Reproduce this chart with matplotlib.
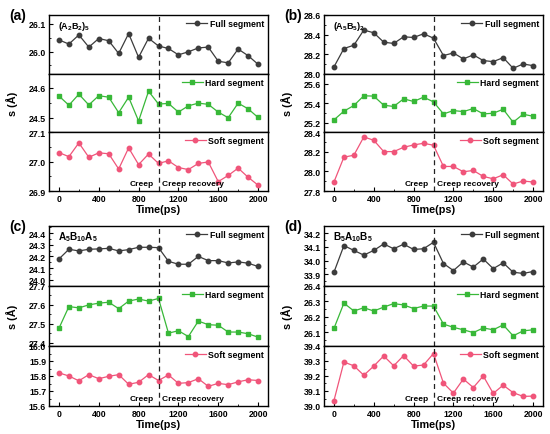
import matplotlib
matplotlib.use('Agg')
import matplotlib.pyplot as plt
from matplotlib.ticker import AutoMinorLocator

plt.rcParams['font.family'] = ['Liberation Sans', 'DejaVu Sans']
plt.rcParams['font.weight'] = 'bold'
plt.rcParams['mathtext.fontset'] = 'custom'
plt.rcParams['mathtext.rm'] = 'Liberation Sans:bold'
plt.rcParams['mathtext.it'] = 'Liberation Sans:bold'
plt.rcParams['mathtext.bf'] = 'Liberation Sans:bold'

# ---------------- data ----------------
time = [0, 100, 200, 300, 400, 500, 600, 700, 800, 900, 1000,
        1100, 1200, 1300, 1400, 1500, 1600, 1700, 1800, 1900, 2000]
x_ticks = [0, 400, 800, 1200, 1600, 2000]

a_full = [26.042, 26.027, 26.060, 26.016, 26.047, 26.039, 25.993, 26.065, 25.979, 26.048, 26.020,
          26.011, 25.988, 25.999, 26.013, 26.016, 25.965, 25.959, 26.009, 25.985, 25.954]
a_hard = [24.573, 24.542, 24.579, 24.543, 24.574, 24.569, 24.517, 24.569, 24.489, 24.589, 24.546,
          24.548, 24.519, 24.540, 24.549, 24.545, 24.519, 24.500, 24.549, 24.530, 24.501]
a_soft = [27.031, 27.017, 27.064, 27.015, 27.030, 27.027, 26.975, 27.047, 26.990, 27.026, 26.994,
          27.003, 26.980, 26.973, 26.994, 26.999, 26.932, 26.953, 26.978, 26.947, 26.920]

b_full = [28.069, 28.257, 28.291, 28.446, 28.418, 28.322, 28.309, 28.377, 28.370, 28.408, 28.363,
          28.185, 28.212, 28.151, 28.192, 28.134, 28.123, 28.164, 28.055, 28.099, 28.082]
b_hard = [25.231, 25.320, 25.378, 25.477, 25.474, 25.381, 25.368, 25.446, 25.419, 25.463, 25.415,
          25.292, 25.326, 25.316, 25.347, 25.292, 25.299, 25.340, 25.207, 25.289, 25.268]
b_soft = [27.892, 28.146, 28.166, 28.353, 28.319, 28.203, 28.203, 28.247, 28.271, 28.288, 28.268,
          28.051, 28.051, 27.997, 28.010, 27.949, 27.925, 27.966, 27.871, 27.902, 27.892]

c_full = [24.178, 24.261, 24.247, 24.261, 24.264, 24.269, 24.247, 24.258, 24.278, 24.278, 24.275,
          24.158, 24.133, 24.133, 24.200, 24.164, 24.164, 24.144, 24.153, 24.142, 24.114]
c_hard = [27.476, 27.591, 27.584, 27.600, 27.609, 27.614, 27.580, 27.620, 27.631, 27.620, 27.634,
          27.450, 27.463, 27.432, 27.514, 27.495, 27.492, 27.456, 27.456, 27.447, 27.429]
c_soft = [15.821, 15.800, 15.768, 15.809, 15.782, 15.798, 15.809, 15.745, 15.758, 15.809, 15.770,
          15.807, 15.751, 15.756, 15.782, 15.731, 15.751, 15.742, 15.761, 15.775, 15.770]

d_full = [33.916, 34.109, 34.074, 34.040, 34.074, 34.121, 34.086, 34.119, 34.081, 34.086, 34.133,
          33.979, 33.928, 33.991, 33.953, 34.012, 33.942, 33.984, 33.916, 33.907, 33.921]
d_hard = [26.125, 26.289, 26.238, 26.259, 26.238, 26.263, 26.286, 26.277, 26.254, 26.270, 26.270,
          26.153, 26.132, 26.116, 26.098, 26.128, 26.116, 26.148, 26.077, 26.109, 26.116]
d_soft = [39.036, 39.293, 39.268, 39.205, 39.266, 39.334, 39.268, 39.336, 39.266, 39.273, 39.350,
          39.152, 39.086, 39.180, 39.123, 39.200, 39.084, 39.139, 39.089, 39.064, 39.066]

series_names = ['Full segment', 'Hard segment', 'Soft segment']
panel_labels = ['(a)', '(b)', '(c)', '(d)']
system_names = [r'(A$_2$B$_2$)$_5$', r'(A$_5$B$_5$)$_2$', r'A$_5$B$_{10}$A$_5$', r'B$_5$A$_{10}$B$_5$']

a_yticks = [[26.0, 26.1], [24.5, 24.6], [26.9, 27.0, 27.1]]
b_yticks = [[28.0, 28.2, 28.4, 28.6], [25.2, 25.4, 25.6], [27.8, 28.0, 28.2, 28.4]]
c_yticks = [[24.0, 24.1, 24.2, 24.3, 24.4], [27.4, 27.5, 27.6, 27.7], [15.6, 15.7, 15.8, 15.9, 16.0]]
d_yticks = [[33.9, 34.0, 34.1, 34.2], [26.1, 26.2, 26.3, 26.4], [39.0, 39.1, 39.2, 39.3, 39.4]]

# ---------------- style / layout ----------------
colors = ['#3c3c3c', '#38b838', '#f0557a']
markers = ['o', 's', 'o']
ylims = {
    0: [(25.92, 26.132), (24.451, 24.648), (26.9, 27.1)],
    1: [(28.0, 28.6), (25.104, 25.703), (27.8, 28.4)],
    2: [(23.947, 24.46), (27.382, 27.70), (15.6, 16.0)],
    3: [(33.816, 34.251), (26.011, 26.40), (39.0, 39.4)],
}
data = [[a_full, a_hard, a_soft], [b_full, b_hard, b_soft],
        [c_full, c_hard, c_soft], [d_full, d_hard, d_soft]]
yticks = [a_yticks, b_yticks, c_yticks, d_yticks]

W, H = 550, 435
fig = plt.figure(figsize=(W / 100, H / 100), dpi=100)

# (left, top, bottom) in pixels for each panel
boxes = [(49, 16, 192), (324, 16, 192), (49, 227, 407), (324, 227, 407)]
width_px = 219
tick_fs = 6.3

for p in range(4):
    left, top, bottom = boxes[p]
    h = (bottom - top) / 3.0
    axes = []
    for k in range(3):
        y0 = top + k * h
        ax = fig.add_axes([left / W, 1 - (y0 + h) / H, width_px / W, h / H])
        ax.plot(time, data[p][k], color=colors[k], marker=markers[k], markersize=3.2,
                linewidth=0.9, label=series_names[k])
        ax.axvline(1000, color='#222222', linestyle=(0, (4, 3)), linewidth=0.9)
        ax.set_xlim(-100, 2100)
        ax.set_ylim(*ylims[p][k])
        ax.set_yticks(yticks[p][k])
        ax.set_yticklabels([f'{v:.1f}' for v in yticks[p][k]], fontsize=tick_fs, fontweight='bold')
        ax.yaxis.set_minor_locator(AutoMinorLocator(2))
        ax.tick_params(axis='y', which='major', direction='in', length=3, width=0.8, pad=2)
        ax.tick_params(axis='y', which='minor', direction='in', length=1.6, width=0.6)
        for s in ax.spines.values():
            s.set_linewidth(1.0)
        leg = ax.legend(loc='upper right', frameon=False, fontsize=6.3, handlelength=2.4,
                        handletextpad=0.3, borderaxespad=0.25, borderpad=0.2)
        for t in leg.get_texts():
            t.set_fontweight('bold')
        if k < 2:
            ax.set_xticks([])
        else:
            ax.set_xticks(x_ticks)
            ax.set_xticklabels([str(v) for v in x_ticks], fontsize=tick_fs, fontweight='bold')
            ax.xaxis.set_minor_locator(AutoMinorLocator(2))
            ax.tick_params(axis='x', which='major', direction='in', length=3, width=0.8, pad=2)
            ax.tick_params(axis='x', which='minor', direction='in', length=1.6, width=0.6)
            ax.set_xlabel('Time(ps)', fontsize=7.8, fontweight='bold', labelpad=1)
            ax.text(1000 - 45, ax.get_ylim()[0] + 0.06 * (ax.get_ylim()[1] - ax.get_ylim()[0]),
                    'Creep', ha='right', va='bottom', fontsize=6.0, fontweight='bold')
            ax.text(1000 + 35, ax.get_ylim()[0] + 0.06 * (ax.get_ylim()[1] - ax.get_ylim()[0]),
                    'Creep recovery', ha='left', va='bottom', fontsize=6.0, fontweight='bold')
        if k == 0:
            ax.text(0.04, 0.94, system_names[p], transform=ax.transAxes, ha='left', va='top',
                    fontsize=6.5 if p < 2 else 7.2, fontweight='bold')
        axes.append(ax)
    # y label & panel label
    fig.text((left - 37) / W, 1 - (top + 1.5 * h) / H, 's (Å)', rotation=90,
             ha='center', va='center', fontsize=7.8, fontweight='bold')
    fig.text((left - 31) / W, 1 - (top + 0) / H, panel_labels[p],
             ha='center', va='center', fontsize=10, fontweight='bold')

fig.savefig('out.png', dpi=100)
